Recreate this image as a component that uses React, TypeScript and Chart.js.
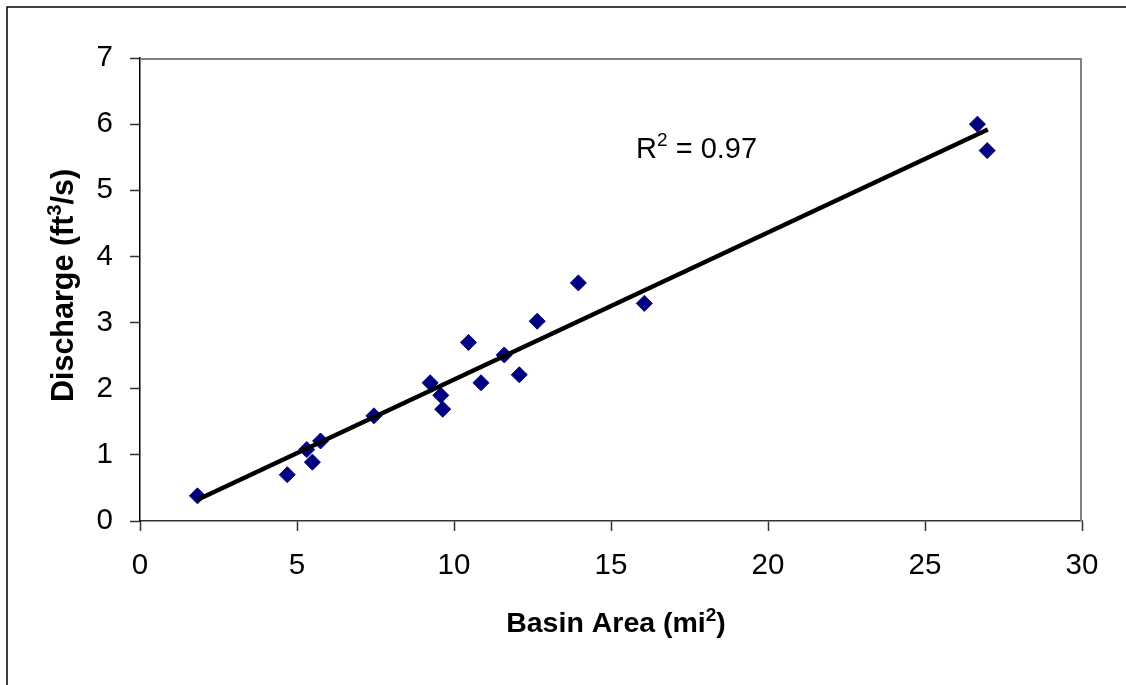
import React, { useEffect, useRef } from 'react';
import { Chart, registerables } from 'chart.js';

Chart.register(...registerables);

// Observed points
const basinArea = [1.83, 4.69, 5.31, 5.49, 5.75, 7.45, 9.24, 9.58, 9.64, 10.46, 10.86, 11.6, 12.08, 12.65, 13.96, 16.06, 26.67, 26.98];
const discharge = [0.38, 0.7, 1.08, 0.89, 1.21, 1.59, 2.09, 1.9, 1.69, 2.7, 2.09, 2.51, 2.21, 3.02, 3.6, 3.29, 6.0, 5.6];

// Linear trend line end points (as drawn in the figure)
const trendArea = [1.83, 27.0];
const trendDischarge = [0.32, 5.92];

// Axis ticks
const xTicks = [0, 5, 10, 15, 20, 25, 30];
const yTicks = [0, 1, 2, 3, 4, 5, 6, 7];

const rSquaredLabel = '0.97';
const rSquaredAt = [15.8, 5.49];

const FAMILY = '"Liberation Sans", Arial, Helvetica, sans-serif';

type Part = { t: string; sup?: boolean };

function drawRich(
  ctx: CanvasRenderingContext2D,
  parts: Part[],
  size: number,
  bold: boolean,
  x: number,
  y: number,
  align: 'left' | 'center'
) {
  const w = bold ? 'bold ' : '';
  const normal = `${w}${size}px ${FAMILY}`;
  const small = `${w}${Math.round(size * 0.66)}px ${FAMILY}`;
  const widths = parts.map((p) => {
    ctx.font = p.sup ? small : normal;
    return ctx.measureText(p.t).width;
  });
  const total = widths.reduce((a, b) => a + b, 0);
  let cx = align === 'center' ? x - total / 2 : x;
  ctx.textAlign = 'left';
  ctx.textBaseline = 'alphabetic';
  parts.forEach((p, i) => {
    ctx.font = p.sup ? small : normal;
    ctx.fillText(p.t, cx, p.sup ? y - size * 0.4 : y);
    cx += widths[i];
  });
}

const App = () => {
  const ref = useRef<HTMLCanvasElement>(null);

  useEffect(() => {
    const canvas = ref.current;
    if (!canvas) return;

    const decor = {
      id: 'decor',
      beforeDraw(chart: any) {
        const ctx = chart.ctx as CanvasRenderingContext2D;
        ctx.save();
        ctx.fillStyle = '#ffffff';
        ctx.fillRect(0, 0, chart.width, chart.height);
        ctx.strokeStyle = '#000000';
        ctx.lineWidth = 1.5;
        ctx.beginPath();
        ctx.moveTo(7, chart.height);
        ctx.lineTo(7, 7);
        ctx.lineTo(chart.width, 7);
        ctx.stroke();
        ctx.restore();
      },
      afterDraw(chart: any) {
        const ctx = chart.ctx as CanvasRenderingContext2D;
        const { left, right, top, bottom } = chart.chartArea;
        const xs = chart.scales.x;
        const ys = chart.scales.y;
        ctx.save();
        // plot area top/right border
        ctx.strokeStyle = '#808080';
        ctx.lineWidth = 2;
        ctx.beginPath();
        ctx.moveTo(left, top + 1);
        ctx.lineTo(right - 1, top + 1);
        ctx.lineTo(right - 1, bottom);
        ctx.stroke();

        ctx.fillStyle = '#000000';
        // R^2 annotation
        drawRich(
          ctx,
          [{ t: 'R' }, { t: '2', sup: true }, { t: ' = ' + rSquaredLabel }],
          29,
          false,
          xs.getPixelForValue(rSquaredAt[0]),
          ys.getPixelForValue(rSquaredAt[1]),
          'left'
        );
        // X axis title
        drawRich(
          ctx,
          [{ t: 'Basin Area (mi' }, { t: '2', sup: true }, { t: ')' }],
          28.5,
          true,
          (left + right) / 2 + 5,
          632,
          'center'
        );
        // Y axis title
        ctx.translate(73, (top + bottom) / 2 - 4);
        ctx.rotate(-Math.PI / 2);
        drawRich(
          ctx,
          [{ t: 'Discharge (ft' }, { t: '3', sup: true }, { t: '/s)' }],
          30.5,
          true,
          0,
          0,
          'center'
        );
        ctx.restore();
      },
    };

    const chart = new Chart(canvas, {
      type: 'scatter',
      data: {
        datasets: [
          {
            type: 'line',
            label: 'Linear trend',
            data: trendArea.map((x, i) => ({ x, y: trendDischarge[i] })),
            borderColor: '#000000',
            backgroundColor: '#000000',
            borderWidth: 4.5,
            pointRadius: 0,
            fill: false,
            tension: 0,
            order: 0,
          } as any,
          {
            type: 'scatter',
            label: 'Discharge',
            data: basinArea.map((x, i) => ({ x, y: discharge[i] })),
            pointStyle: 'rectRot',
            pointRadius: 8,
            pointHoverRadius: 8,
            backgroundColor: '#000080',
            borderColor: '#000080',
            borderWidth: 1,
            order: 1,
          },
        ],
      },
      options: {
        responsive: false,
        maintainAspectRatio: false,
        animation: false,
        events: [],
        layout: { padding: { left: 0, top: 58, right: 44, bottom: 0 } },
        plugins: {
          legend: { display: false },
          tooltip: { enabled: false },
          title: { display: false },
        },
        scales: {
          x: {
            type: 'linear',
            min: xTicks[0],
            max: xTicks[xTicks.length - 1],
            afterBuildTicks: (scale: any) => {
              scale.ticks = xTicks.map((v) => ({ value: v }));
            },
            afterFit: (scale: any) => {
              scale.height = 164;
            },
            grid: {
              drawOnChartArea: false,
              drawTicks: true,
              tickLength: 10,
              tickColor: '#333333',
              tickWidth: 1.5,
            },
            border: { display: true, color: '#333333', width: 1.5 },
            ticks: {
              autoSkip: false,
              maxRotation: 0,
              padding: 17,
              color: '#000000',
              font: { family: FAMILY, size: 29.5 },
            },
          },
          y: {
            type: 'linear',
            min: yTicks[0],
            max: yTicks[yTicks.length - 1],
            afterBuildTicks: (scale: any) => {
              scale.ticks = yTicks.map((v) => ({ value: v }));
            },
            afterFit: (scale: any) => {
              scale.width = 140;
            },
            grid: {
              drawOnChartArea: false,
              drawTicks: true,
              tickLength: 10,
              tickColor: '#333333',
              tickWidth: 1.5,
            },
            border: { display: true, color: '#000000', width: 1.5 },
            ticks: {
              autoSkip: false,
              padding: 17,
              color: '#000000',
              font: { family: FAMILY, size: 29.5 },
            },
          },
        },
      },
      plugins: [decor],
    } as any);

    return () => chart.destroy();
  }, []);

  return (
    <div style={{ position: 'absolute', left: 0, top: 0, width: 1126, height: 685, background: '#fff' }}>
      <canvas ref={ref} width={1126} height={685} style={{ display: 'block' }} />
    </div>
  );
};

export default App;
